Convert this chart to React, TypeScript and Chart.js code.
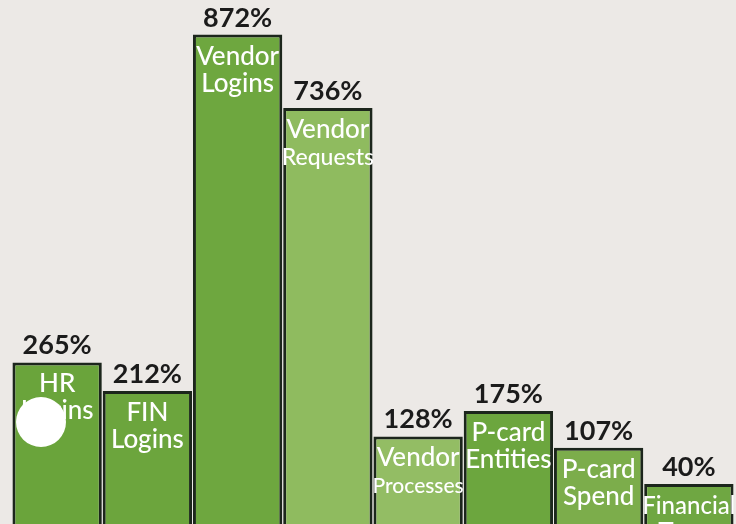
import React, { useEffect, useRef } from "react";
import { Chart, registerables } from "chart.js";

Chart.register(...registerables);

const categories: string[][] = [
  ["HR", "Logins"],
  ["FIN", "Logins"],
  ["Vendor", "Logins"],
  ["Vendor", "Requests"],
  ["Vendor", "Processes"],
  ["P-card", "Entities"],
  ["P-card", "Spend"],
  ["Financial", "Trxns"],
];
const growthPct: number[] = [265, 212, 872, 736, 128, 175, 107, 40];
const barColors: string[] = [
  "#6aa43b",
  "#6ca53d",
  "#6ea73f",
  "#8fbb5f",
  "#93bd64",
  "#6ca63e",
  "#7cad4b",
  "#6fa742",
];

const Y_MIN = -34;
const Y_MAX = 936;
const FONT = "Lato, 'Open Sans', sans-serif";

const labelPlugin = {
  id: "barLabels",
  afterDatasetsDraw(chart: any) {
    const ctx = chart.ctx;
    const meta = chart.getDatasetMeta(0);
    ctx.save();
    meta.data.forEach((bar: any, i: number) => {
      const { x, y, width } = bar.getProps(["x", "y", "width"], true);
      // percentage above bar
      ctx.fillStyle = "#1b1b1b";
      ctx.font = `bold 27px ${FONT}`;
      ctx.textAlign = "center";
      ctx.textBaseline = "alphabetic";
      ctx.fillText(`${growthPct[i]}%`, x, y - 8);
      // label inside bar
      ctx.fillStyle = "#ffffff";
      const lines = categories[i];
      let baseline = y + 30;
      lines.forEach((line: string) => {
        let size = 26;
        ctx.font = `normal 500 ${size}px ${FONT}`;
        while (ctx.measureText(line).width > width + 4 && size > 12) {
          size -= 1;
          ctx.font = `normal 500 ${size}px ${FONT}`;
        }
        ctx.fillText(line, x, baseline);
        baseline += 27;
      });
    });
    ctx.restore();
  },
  afterDraw(chart: any) {
    // punched hole in the scanned page
    const ctx = chart.ctx;
    ctx.save();
    ctx.fillStyle = "#ffffff";
    ctx.beginPath();
    ctx.arc(41, 422, 25, 0, Math.PI * 2);
    ctx.fill();
    ctx.restore();
  },
};

export default function App() {
  const canvasRef = useRef<HTMLCanvasElement | null>(null);

  useEffect(() => {
    document.body.style.margin = "0";
    document.body.style.background = "#ece9e6";
    const canvas = canvasRef.current;
    if (!canvas) return;
    const chart = new Chart(canvas, {
      type: "bar",
      data: {
        labels: categories.map((c) => c.join(" ")),
        datasets: [
          {
            data: growthPct,
            backgroundColor: barColors,
            borderColor: "#1c261c",
            borderWidth: 3,
            borderSkipped: "start",
            base: Y_MIN,
            barPercentage: 1,
            categoryPercentage: 0.99,
          } as any,
        ],
      },
      options: {
        animation: false,
        responsive: false,
        maintainAspectRatio: false,
        layout: { padding: { left: 12, right: 2, top: 0, bottom: 0 } },
        plugins: {
          legend: { display: false },
          tooltip: { enabled: false },
        },
        scales: {
          x: { display: false, offset: true, grid: { display: false } },
          y: { display: false, min: Y_MIN, max: Y_MAX, grid: { display: false } },
        },
      },
      plugins: [labelPlugin],
    });
    return () => chart.destroy();
  }, []);

  return (
    <div
      style={{
        position: "absolute",
        left: 0,
        top: 0,
        width: 736,
        height: 524,
        background: "#ece9e6",
      }}
    >
      <canvas ref={canvasRef} width={736} height={524} style={{ display: "block" }} />
    </div>
  );
}
